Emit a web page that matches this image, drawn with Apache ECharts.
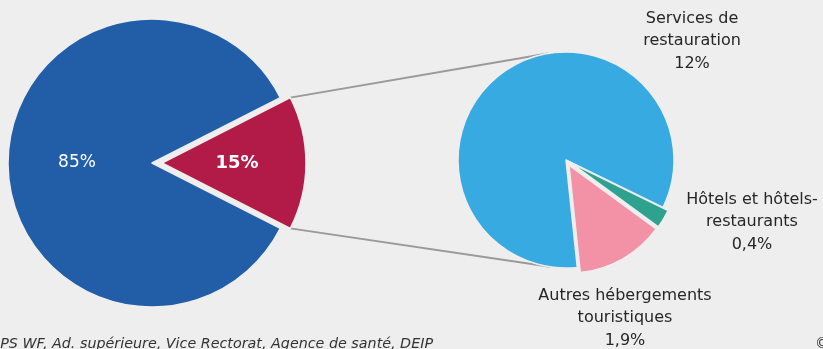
<!DOCTYPE html>
<html>
<head>
<meta charset="utf-8">
<script src="https://cdn.jsdelivr.net/npm/echarts@6/dist/echarts.min.js"></script>
<style>
html,body{margin:0;padding:0;background:#eeeeee;}
#c{width:823px;height:349px;}
</style>
</head>
<body>
<div id="c"></div>
<script>
// ---- data ----
var mainNames = ['Tourisme', 'Autres'];
var mainValues = [15, 85];
var mainExploded = [true, false];
var subNames = ['Services de\nrestauration', 'Hôtels et hôtels-\nrestaurants', 'Autres hébergements\ntouristiques'];
var subValues = [12, 0.4, 1.9];
var subExploded = [false, true, true];
var sourceText = 'RPS WF, Ad. supérieure, Vice Rectorat, Agence de santé, DEIP';
var copyrightText = '©';

// ---- layout / style ----
var FONT = 'DejaVu Sans';
var BG = '#eeeeee';
var L = { cx: 152, cy: 163, r: 144, offset: 10 };
var R = { cx: 566, cy: 160, r: 108, offset: 6, start: 276 };
var mainColors = ['#B21A47', '#225EA8'];
var subColors = ['#37AAE1', '#2EA28F', '#F391A6'];
var subLabelPos = [[692, 41], [752, 222], [625, 318]];

var chart = echarts.init(document.getElementById('c'), null, { renderer: 'canvas' });

function fmt(v) { return String(v).replace('.', ',') + '%'; }
function sum(a) { return a.reduce(function (x, y) { return x + y; }, 0); }

var mainTotal = sum(mainValues);
var halfAngle = mainValues[0] / mainTotal * 180;
var mainStart = halfAngle;

// mid angle (math degrees) of each slice, clockwise from start
function midAngles(values, start) {
  var tot = sum(values), acc = 0;
  return values.map(function (v) {
    var span = v / tot * 360;
    var m = start - acc - span / 2;
    acc += span;
    return m;
  });
}
var mainMid = midAngles(mainValues, mainStart);
var subMid = midAngles(subValues, R.start);

function shifted(P, ang, on) {
  if (!on) return [P.cx, P.cy];
  var a = ang * Math.PI / 180;
  return [P.cx + P.offset * Math.cos(a), P.cy - P.offset * Math.sin(a)];
}

// connector lines from the exploded slice corners, tangent to right pie
var mainC = shifted(L, mainMid[0], true);
function corner(sign) {
  var a = sign * halfAngle * Math.PI / 180;
  return [mainC[0] + L.r * Math.cos(a), mainC[1] + L.r * Math.sin(a)];
}
function tangent(p, upper) {
  var dx = p[0] - R.cx, dy = p[1] - R.cy;
  var d = Math.sqrt(dx * dx + dy * dy);
  var base = Math.atan2(dy, dx);
  var t = Math.acos(R.r / d);
  var ang = upper ? base + t : base - t;
  return [R.cx + R.r * Math.cos(ang), R.cy + R.r * Math.sin(ang)];
}
var pTop = corner(-1), pBot = corner(1);
var tTop = tangent(pTop, true), tBot = tangent(pBot, false);

var lineStyle = { stroke: '#999999', lineWidth: 2 };

// one pie series per slice so each can be offset independently
function sliceSeries(P, names, values, colors, start, mids, exploded, idx, labelOpt, layoutFn) {
  var c = shifted(P, mids[idx], exploded[idx]);
  return {
    type: 'pie',
    center: c,
    radius: [0, P.r],
    startAngle: start,
    clockwise: true,
    avoidLabelOverlap: false,
    silent: true,
    z: 3,
    labelLine: { show: false },
    labelLayout: layoutFn,
    data: values.map(function (v, i) {
      var vis = i === idx;
      return {
        name: names[i], value: v,
        itemStyle: vis ? { color: colors[i], borderColor: BG, borderWidth: 1.5 } : { color: 'rgba(0,0,0,0)', borderWidth: 0 },
        label: vis ? labelOpt(i) : { show: false }
      };
    })
  };
}

var series = [];
mainValues.forEach(function (v, i) {
  series.push(sliceSeries(L, mainNames, mainValues, mainColors, mainStart, mainMid, mainExploded, i, function (k) {
    return {
      show: true, position: 'inside', color: '#ffffff', fontFamily: FONT,
      fontSize: k === 0 ? 18 : 17, fontWeight: k === 0 ? 'bold' : 'normal',
      formatter: function (p) { return fmt(p.value); }
    };
  }, null));
});
subValues.forEach(function (v, i) {
  series.push(sliceSeries(R, subNames, subValues, subColors, R.start, subMid, subExploded, i, function (k) {
    return {
      show: true, position: 'outside', color: '#262626', fontFamily: FONT, fontSize: 16,
      lineHeight: 22.5, align: 'center',
      formatter: function (p) { return p.name + '\n' + fmt(p.value); }
    };
  }, function (params) {
    var pos = subLabelPos[params.dataIndex];
    return { x: pos[0], y: pos[1], align: 'center', verticalAlign: 'middle' };
  }));
});

var option = {
  backgroundColor: BG,
  animation: false,
  textStyle: { fontFamily: FONT },
  graphic: [
    { type: 'line', z: 1, shape: { x1: pTop[0], y1: pTop[1], x2: tTop[0], y2: tTop[1] }, style: lineStyle },
    { type: 'line', z: 1, shape: { x1: pBot[0], y1: pBot[1], x2: tBot[0], y2: tBot[1] }, style: lineStyle },
    { type: 'text', x: 433, y: 337, style: { text: sourceText, font: 'italic 14.3px "DejaVu Sans"', fill: '#333333', align: 'right', verticalAlign: 'top' } },
    { type: 'text', x: 815, y: 337, style: { text: copyrightText, font: '14px "DejaVu Sans"', fill: '#333333', align: 'left', verticalAlign: 'top' } }
  ],
  series: series
};
chart.setOption(option);
</script>
</body>
</html>
